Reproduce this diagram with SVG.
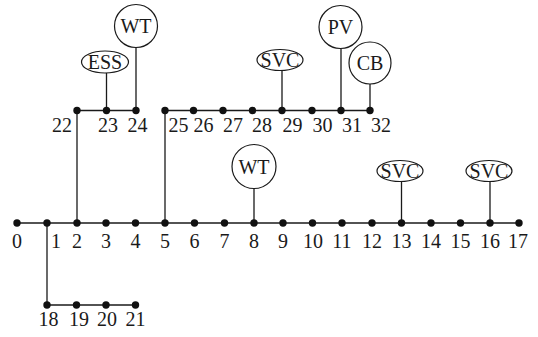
<svg xmlns="http://www.w3.org/2000/svg" width="538" height="337" viewBox="0 0 538 337" font-family="'Liberation Serif', 'DejaVu Serif', serif" font-size="20">
  <style>
    .ln { stroke: #1a1a1a; stroke-width: 1.3; fill: none; }
    .dot { fill: #111; }
    .dev { fill: #fff; stroke: #1a1a1a; stroke-width: 1.2; }
    text { font-family: 'Liberation Serif', 'DejaVu Serif', serif; font-size: 20px; fill: #1a1a1a; }
    .c { text-anchor: middle; }
    .s { text-anchor: start; }
    .e { text-anchor: end; }
  </style>

  <!-- lines -->
  <g id="connectors">
    <!-- main feeder 0-17 -->
    <line class="ln" x1="17" y1="223" x2="519" y2="223"/>
    <!-- lateral 1-18-21 -->
    <line class="ln" x1="47" y1="223" x2="47" y2="305"/>
    <line class="ln" x1="47" y1="305" x2="135.5" y2="305"/>
    <!-- lateral 2-22-24 -->
    <line class="ln" x1="77" y1="223" x2="77" y2="110.5"/>
    <line class="ln" x1="77" y1="110.5" x2="136" y2="110.5"/>
    <!-- lateral 5-25-32 -->
    <line class="ln" x1="165" y1="223" x2="165" y2="110.5"/>
    <line class="ln" x1="165" y1="110.5" x2="370" y2="110.5"/>
    <!-- device taps -->
    <line class="ln" x1="106.5" y1="73" x2="106.5" y2="110.5"/>
    <line class="ln" x1="136" y1="47.5" x2="136" y2="110.5"/>
    <line class="ln" x1="282" y1="70.5" x2="282" y2="110.5"/>
    <line class="ln" x1="341" y1="48.5" x2="341" y2="110.5"/>
    <line class="ln" x1="370" y1="84" x2="370" y2="110.5"/>
    <line class="ln" x1="254" y1="188.5" x2="254" y2="223"/>
    <line class="ln" x1="401.5" y1="181.5" x2="401.5" y2="223"/>
    <line class="ln" x1="490" y1="181.5" x2="490" y2="223"/>
  </g>

  <!-- buses on main feeder -->
  <g id="bus-main">
    <circle class="dot" cx="17" cy="223" r="3.7"/>
    <circle class="dot" cx="47" cy="223" r="3.7"/>
    <circle class="dot" cx="77" cy="223" r="3.7"/>
    <circle class="dot" cx="106" cy="223" r="3.7"/>
    <circle class="dot" cx="135.5" cy="223" r="3.7"/>
    <circle class="dot" cx="165" cy="223" r="3.7"/>
    <circle class="dot" cx="194.5" cy="223" r="3.7"/>
    <circle class="dot" cx="224.5" cy="223" r="3.7"/>
    <circle class="dot" cx="254" cy="223" r="3.7"/>
    <circle class="dot" cx="283" cy="223" r="3.7"/>
    <circle class="dot" cx="312.5" cy="223" r="3.7"/>
    <circle class="dot" cx="342" cy="223" r="3.7"/>
    <circle class="dot" cx="372" cy="223" r="3.7"/>
    <circle class="dot" cx="401.5" cy="223" r="3.7"/>
    <circle class="dot" cx="431" cy="223" r="3.7"/>
    <circle class="dot" cx="460.5" cy="223" r="3.7"/>
    <circle class="dot" cx="490" cy="223" r="3.7"/>
    <circle class="dot" cx="519" cy="223" r="3.7"/>
    <text class="c" x="17" y="248">0</text>
    <text class="s" x="51" y="248">1</text>
    <text class="c" x="77" y="248">2</text>
    <text class="c" x="106" y="248">3</text>
    <text class="c" x="135.5" y="248">4</text>
    <text class="c" x="165" y="248">5</text>
    <text class="c" x="194.5" y="248">6</text>
    <text class="c" x="224.5" y="248">7</text>
    <text class="c" x="254" y="248">8</text>
    <text class="c" x="283" y="248">9</text>
    <text class="c" x="313" y="248">10</text>
    <text class="c" x="342" y="248">11</text>
    <text class="c" x="372" y="248">12</text>
    <text class="c" x="401.5" y="248">13</text>
    <text class="c" x="431" y="248">14</text>
    <text class="c" x="460.5" y="248">15</text>
    <text class="c" x="490" y="248">16</text>
    <text class="c" x="518" y="248">17</text>
  </g>

  <!-- buses 18-21 -->
  <g id="bus-18-21">
    <circle class="dot" cx="47" cy="305" r="3.7"/>
    <circle class="dot" cx="76.5" cy="305" r="3.7"/>
    <circle class="dot" cx="106" cy="305" r="3.7"/>
    <circle class="dot" cx="135.5" cy="305" r="3.7"/>
    <text class="c" x="48.5" y="326">18</text>
    <text class="c" x="79" y="326">19</text>
    <text class="c" x="107" y="326">20</text>
    <text class="c" x="135.5" y="326">21</text>
  </g>

  <!-- buses 22-24 -->
  <g id="bus-22-24">
    <circle class="dot" cx="77" cy="110.5" r="3.7"/>
    <circle class="dot" cx="106.5" cy="110.5" r="3.7"/>
    <circle class="dot" cx="136" cy="110.5" r="3.7"/>
    <text class="e" x="72" y="131.5">22</text>
    <text class="c" x="108" y="131.5">23</text>
    <text class="c" x="137.5" y="131.5">24</text>
  </g>

  <!-- buses 25-32 -->
  <g id="bus-25-32">
    <circle class="dot" cx="165" cy="110.5" r="3.7"/>
    <circle class="dot" cx="193.5" cy="110.5" r="3.7"/>
    <circle class="dot" cx="223" cy="110.5" r="3.7"/>
    <circle class="dot" cx="252.5" cy="110.5" r="3.7"/>
    <circle class="dot" cx="282" cy="110.5" r="3.7"/>
    <circle class="dot" cx="312" cy="110.5" r="3.7"/>
    <circle class="dot" cx="341" cy="110.5" r="3.7"/>
    <circle class="dot" cx="370" cy="110.5" r="3.7"/>
    <text class="s" x="168.5" y="131.5">25</text>
    <text class="s" x="193.5" y="131.5">26</text>
    <text class="s" x="223" y="131.5">27</text>
    <text class="s" x="252" y="131.5">28</text>
    <text class="s" x="282.5" y="131.5">29</text>
    <text class="s" x="312.5" y="131.5">30</text>
    <text class="s" x="342" y="131.5">31</text>
    <text class="s" x="371" y="131.5">32</text>
  </g>

  <!-- distributed devices -->
  <g id="ess-23">
    <ellipse class="dev" cx="105" cy="62" rx="23.5" ry="11"/>
    <text class="c" x="105" y="68.5">ESS</text>
  </g>
  <g id="wt-24">
    <circle class="dev" cx="136" cy="26" r="21.5"/>
    <text class="c" x="136" y="33">WT</text>
  </g>
  <g id="svc-29">
    <ellipse class="dev" cx="280" cy="60" rx="23" ry="10.5"/>
    <text class="c" x="280" y="66.5">SVC</text>
  </g>
  <g id="pv-31">
    <circle class="dev" cx="340.5" cy="27" r="21.5"/>
    <text class="c" x="340.5" y="34">PV</text>
  </g>
  <g id="cb-32">
    <circle class="dev" cx="370" cy="63" r="21"/>
    <text class="c" x="370" y="70">CB</text>
  </g>
  <g id="wt-8">
    <circle class="dev" cx="254" cy="166.5" r="22"/>
    <text class="c" x="254" y="173.5">WT</text>
  </g>
  <g id="svc-13">
    <ellipse class="dev" cx="400" cy="171" rx="23" ry="10.5"/>
    <text class="c" x="400" y="177.5">SVC</text>
  </g>
  <g id="svc-16">
    <ellipse class="dev" cx="489" cy="171" rx="23" ry="10.5"/>
    <text class="c" x="489" y="177.5">SVC</text>
  </g>
</svg>
